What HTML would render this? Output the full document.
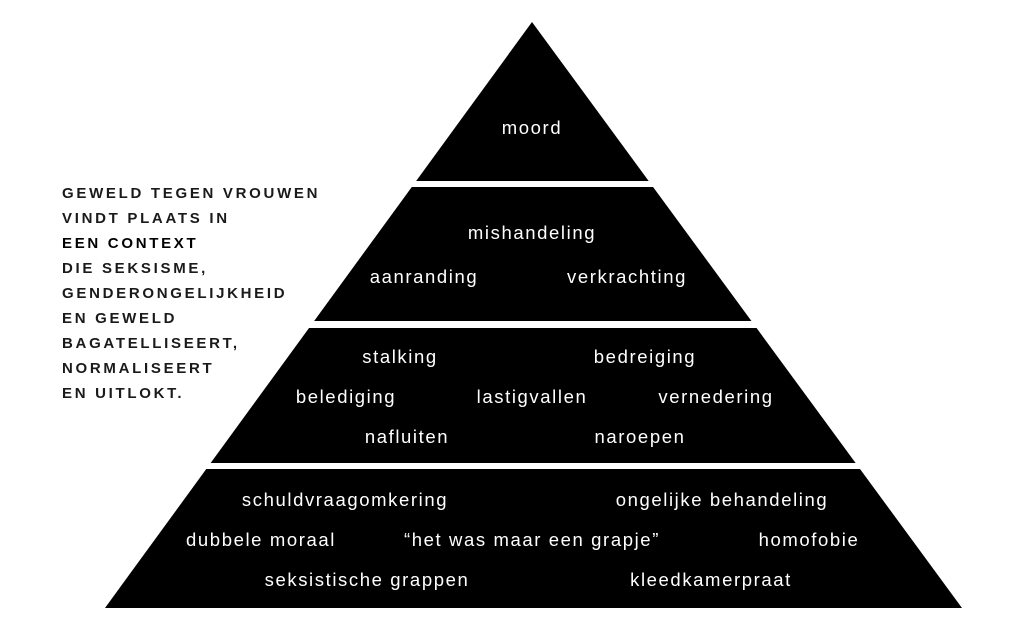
<!DOCTYPE html>
<html><head><style>
body{margin:0;width:1030px;height:644px;background:#fff;overflow:hidden;position:relative;font-family:"Liberation Sans",sans-serif}
svg{position:absolute;left:0;top:0}
.t{position:absolute;left:62px;top:181px;font-size:15px;line-height:25px;letter-spacing:2.7px;color:#1a1a1a;font-weight:bold}
.t b{color:#000}
.w text{fill:#fff;font-family:"Liberation Sans",sans-serif;font-size:18.5px;letter-spacing:1.6px;text-anchor:middle}
</style></head><body>
<svg width="1030" height="644" class="w">
<polygon points="532,22 962,608 105,608" fill="#000"/>
<rect x="0" y="181" width="1030" height="6" fill="#fff"/>
<rect x="0" y="321" width="1030" height="7" fill="#fff"/>
<rect x="0" y="463" width="1030" height="6" fill="#fff"/>
<text x="532" y="134">moord</text>
<text x="532" y="239">mishandeling</text>
<text x="424" y="283">aanranding</text>
<text x="627" y="283">verkrachting</text>
<text x="400" y="363">stalking</text>
<text x="645" y="363">bedreiging</text>
<text x="346" y="403">belediging</text>
<text x="532" y="403">lastigvallen</text>
<text x="716" y="403">vernedering</text>
<text x="407" y="443">nafluiten</text>
<text x="640" y="443">naroepen</text>
<text x="345" y="506">schuldvraagomkering</text>
<text x="722" y="506">ongelijke behandeling</text>
<text x="261" y="546">dubbele moraal</text>
<text x="532" y="546">“het was maar een grapje”</text>
<text x="809" y="546">homofobie</text>
<text x="367" y="586">seksistische grappen</text>
<text x="711" y="586">kleedkamerpraat</text>
</svg>
<div class="t">GEWELD TEGEN VROUWEN<br>VINDT PLAATS IN<br><b>EEN CONTEXT</b><br>DIE SEKSISME,<br>GENDERONGELIJKHEID<br>EN GEWELD<br>BAGATELLISEERT,<br>NORMALISEERT<br>EN UITLOKT.</div>
</body></html>
